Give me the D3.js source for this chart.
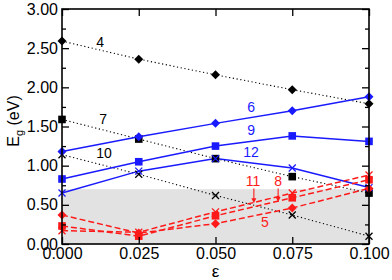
<!DOCTYPE html>
<html><head><meta charset="utf-8">
<script src="https://cdn.jsdelivr.net/npm/d3@7"></script>
<style>html,body{margin:0;padding:0;background:#fff;} svg{display:block;}</style>
</head><body>
<svg id="c" width="392" height="280"></svg>
<script>
const strain = [0, 0.025, 0.05, 0.075, 0.1];
const s4  = [2.59, 2.36, 2.16, 1.97, 1.79];
const s7  = [1.59, 1.34, 1.09, 0.86, 0.65];
const s10 = [1.14, 0.89, 0.62, 0.37, 0.10];
const s6  = [1.18, 1.37, 1.54, 1.70, 1.88];
const s9  = [0.83, 1.05, 1.25, 1.38, 1.31];
const s12 = [0.65, 0.93, 1.09, 0.97, 0.72];
const s5  = [0.37, 0.14, 0.26, 0.46, 0.71];
const s8  = [0.23, 0.10, 0.36, 0.59, 0.82];
const s11 = [0.17, 0.15, 0.41, 0.65, 0.88];
const xTicks = [0, 0.025, 0.05, 0.075, 0.1];
const yTicks = [0, 0.5, 1.0, 1.5, 2.0, 2.5, 3.0];
const yMinor = [0.25, 0.75, 1.25, 1.75, 2.25, 2.75];
const shadeTop = 0.70;
const labelNames = ["4","7","10","6","9","12","11","8","5"];
const labelX = [0.0124, 0.0134, 0.0137, 0.0616, 0.0616, 0.0616, 0.0622, 0.0704, 0.0661];
const labelY = [2.58, 1.60, 1.16, 1.75, 1.46, 1.17, 0.80, 0.80, 0.28];
const arrowX = [0.0625, 0.0704];
const arrowFrom = [0.71, 0.71];
const arrowTo = [0.52, 0.535];

const series = [
  {v: s4,  color: "#000", dash: "1.2,2.6", w: 1.1, mk: "diamond"},
  {v: s7,  color: "#000", dash: "1.2,2.6", w: 1.1, mk: "square"},
  {v: s10, color: "#000", dash: "1.2,2.6", w: 1.1, mk: "x"},
  {v: s6,  color: "#1a1aff", dash: null, w: 1.5, mk: "diamond"},
  {v: s9,  color: "#1a1aff", dash: null, w: 1.5, mk: "square"},
  {v: s12, color: "#1a1aff", dash: null, w: 1.5, mk: "x"},
  {v: s5,  color: "#ff1a1a", dash: "6,3", w: 1.5, mk: "diamond"},
  {v: s8,  color: "#ff1a1a", dash: "6,3", w: 1.5, mk: "square"},
  {v: s11, color: "#ff1a1a", dash: "6,3", w: 1.5, mk: "x"}
];
const labelColors = ["#000","#000","#000","#1a1aff","#1a1aff","#1a1aff","#ff1a1a","#ff1a1a","#ff1a1a"];

const L = 62, R = 369, T = 9, B = 244;
const svg = d3.select("#c");
const x = d3.scaleLinear().domain([0, 0.1]).range([L, R]);
const y = d3.scaleLinear().domain([0, 3]).range([B, T]);
const font = "'Liberation Sans', Arial, sans-serif";

// shaded region
svg.append("rect").attr("x", x(0)).attr("y", y(shadeTop))
  .attr("width", x(0.1) - x(0)).attr("height", y(0) - y(shadeTop))
  .attr("fill", "#e2e2e2");

// lines
const line = d3.line().x((d, i) => x(strain[i])).y(d => y(d));
series.forEach(s => {
  svg.append("path").attr("d", line(s.v)).attr("fill", "none")
    .attr("stroke", s.color).attr("stroke-width", s.w)
    .attr("stroke-dasharray", s.dash);
});

// markers
series.forEach(s => {
  const g = svg.append("g");
  s.v.forEach((d, i) => {
    const cx = x(strain[i]), cy = y(d);
    if (s.mk === "diamond") {
      g.append("path").attr("d", `M${cx},${cy-4.5}L${cx+4.5},${cy}L${cx},${cy+4.5}L${cx-4.5},${cy}Z`).attr("fill", s.color);
    } else if (s.mk === "square") {
      g.append("rect").attr("x", cx-3.8).attr("y", cy-3.8).attr("width", 7.6).attr("height", 7.6).attr("fill", s.color);
    } else {
      g.append("path").attr("d", `M${cx-3.5},${cy-3.5}L${cx+3.5},${cy+3.5}M${cx-3.5},${cy+3.5}L${cx+3.5},${cy-3.5}`)
        .attr("stroke", s.color).attr("stroke-width", 1.3);
    }
  });
});

// axes
const axB = svg.append("g").attr("transform", `translate(0,${B})`)
  .call(d3.axisBottom(x).tickValues(xTicks).tickFormat(d3.format(".3f")).tickSizeInner(-7).tickSizeOuter(0).tickPadding(4));
const axT = svg.append("g").attr("transform", `translate(0,${T})`)
  .call(d3.axisTop(x).tickValues(xTicks).tickFormat("").tickSizeInner(-7).tickSizeOuter(0));
const axL = svg.append("g").attr("transform", `translate(${L},0)`)
  .call(d3.axisLeft(y).tickValues(yTicks).tickFormat(d3.format(".2f")).tickSizeInner(-7).tickSizeOuter(0).tickPadding(4));
const axR = svg.append("g").attr("transform", `translate(${R},0)`)
  .call(d3.axisRight(y).tickValues(yTicks).tickFormat("").tickSizeInner(-7).tickSizeOuter(0));
const axLm = svg.append("g").attr("transform", `translate(${L},0)`)
  .call(d3.axisLeft(y).tickValues(yMinor).tickFormat("").tickSizeInner(-4).tickSizeOuter(0));
const axRm = svg.append("g").attr("transform", `translate(${R},0)`)
  .call(d3.axisRight(y).tickValues(yMinor).tickFormat("").tickSizeInner(-4).tickSizeOuter(0));
[axB, axT, axL, axR, axLm, axRm].forEach(a => {
  a.select(".domain").remove();
  a.selectAll("line").attr("stroke", "#000").attr("stroke-width", 1.3);
  a.selectAll("text").attr("font-family", font).attr("font-size", 16).attr("fill", "#000");
});
axB.selectAll("text").attr("dy", "0.71em");

// frame
svg.append("rect").attr("x", L).attr("y", T).attr("width", R - L).attr("height", B - T)
  .attr("fill", "none").attr("stroke", "#000").attr("stroke-width", 1.6);

// axis titles
svg.append("text").attr("x", x(0.05)).attr("y", 277).attr("text-anchor", "middle")
  .attr("font-family", font).attr("font-size", 17).text("ε");
const yt = svg.append("text").attr("transform", "translate(19,121) rotate(-90)")
  .attr("text-anchor", "middle").attr("font-family", font).attr("font-size", 16);
yt.append("tspan").text("E");
yt.append("tspan").attr("font-size", 11).attr("dy", 4).text("g");
yt.append("tspan").attr("dy", -4).text(" (eV)");

// series labels
labelNames.forEach((n, i) => {
  svg.append("text").attr("x", x(labelX[i])).attr("y", y(labelY[i]))
    .attr("text-anchor", "middle").attr("dominant-baseline", "central")
    .attr("font-family", font).attr("font-size", 14).attr("fill", labelColors[i]).text(n);
});

// arrows
arrowX.forEach((ax, i) => {
  const xx = x(ax), y1 = y(arrowFrom[i]), y2 = y(arrowTo[i]);
  svg.append("line").attr("x1", xx).attr("x2", xx).attr("y1", y1).attr("y2", y2 - 3)
    .attr("stroke", "#ff1a1a").attr("stroke-width", 1.1);
  svg.append("path").attr("d", `M${xx-2.5},${y2-5}L${xx+2.5},${y2-5}L${xx},${y2}Z`).attr("fill", "#ff1a1a");
});
</script>
</body></html>
